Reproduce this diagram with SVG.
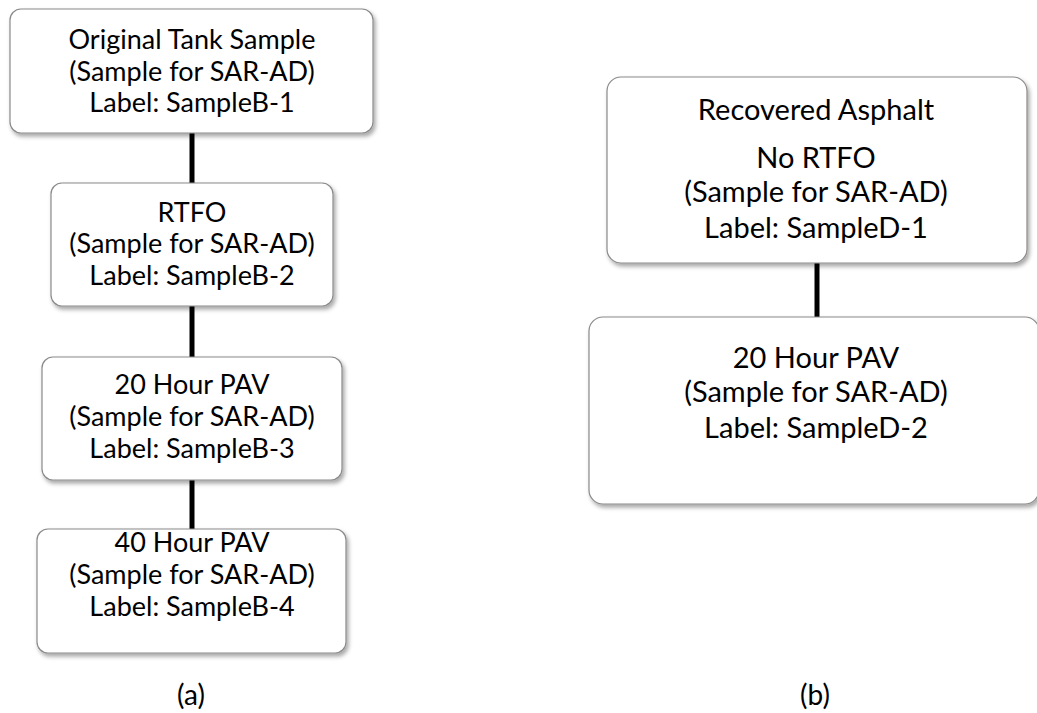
<svg xmlns="http://www.w3.org/2000/svg" width="1037" height="713" viewBox="0 0 1037 713">
<defs>
<filter id="sh" x="-10%" y="-10%" width="130%" height="130%">
<feDropShadow dx="2" dy="3" stdDeviation="2" flood-color="#000" flood-opacity="0.35"/>
</filter>
<style>
.box{fill:#fff;stroke:#8a8a8a;stroke-width:1.2;filter:url(#sh)}
.t{font-family:Lato,"Open Sans","Liberation Sans",sans-serif;fill:#000;text-anchor:middle}
.a{font-size:27px}
.b{font-size:29px}
.cap{font-size:28px}
.con{stroke:#000;stroke-width:5;fill:none}
</style>
</defs>
<rect width="1037" height="713" fill="#fff"/>
<g id="connectors">
<line class="con" x1="192" y1="133" x2="192" y2="183"/>
<line class="con" x1="192" y1="306" x2="192" y2="357"/>
<line class="con" x1="192" y1="480" x2="192" y2="529"/>
<line class="con" x1="817" y1="263" x2="817" y2="317"/>
</g>
<g id="nodeB1">
<rect class="box" x="10" y="9" width="363" height="124" rx="11"/>
<text class="t a" x="192" y="49">Original Tank Sample</text>
<text class="t a" x="192" y="81">(Sample for SAR-AD)</text>
<text class="t a" x="192" y="112">Label: SampleB-1</text>
</g>
<g id="nodeB2">
<rect class="box" x="51" y="183" width="282" height="123" rx="11"/>
<text class="t a" x="192" y="222">RTFO</text>
<text class="t a" x="192" y="253">(Sample for SAR-AD)</text>
<text class="t a" x="192" y="285">Label: SampleB-2</text>
</g>
<g id="nodeB3">
<rect class="box" x="42" y="357" width="300" height="123" rx="11"/>
<text class="t a" x="192" y="394">20 Hour PAV</text>
<text class="t a" x="192" y="426">(Sample for SAR-AD)</text>
<text class="t a" x="192" y="458">Label: SampleB-3</text>
</g>
<g id="nodeB4">
<rect class="box" x="37" y="529" width="309" height="124" rx="11"/>
<text class="t a" x="192" y="552">40 Hour PAV</text>
<text class="t a" x="192" y="584">(Sample for SAR-AD)</text>
<text class="t a" x="192" y="616">Label: SampleB-4</text>
</g>
<g id="nodeD1">
<rect class="box" x="607" y="77" width="420" height="186" rx="14"/>
<text class="t b" x="816" y="120">Recovered Asphalt</text>
<text class="t b" x="816" y="168">No RTFO</text>
<text class="t b" x="816" y="202">(Sample for SAR-AD)</text>
<text class="t b" x="816" y="238">Label: SampleD-1</text>
</g>
<g id="nodeD2">
<rect class="box" x="589" y="317" width="450" height="187" rx="14"/>
<text class="t b" x="816" y="368">20 Hour PAV</text>
<text class="t b" x="816" y="402">(Sample for SAR-AD)</text>
<text class="t b" x="816" y="438">Label: SampleD-2</text>
</g>
<g id="captions">
<text class="t cap" x="191" y="705">(a)</text>
<text class="t cap" x="815" y="705">(b)</text>
</g>
</svg>
